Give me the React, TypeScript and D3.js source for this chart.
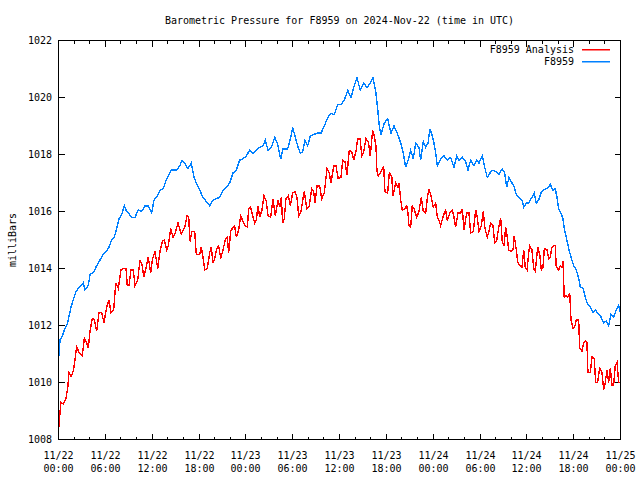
import React, { useEffect } from 'react';
import * as d3 from 'd3';

const chartTitle = 'Barometric Pressure for F8959 on 2024-Nov-22 (time in UTC)';
const yAxisLabel = 'milliBars';
const seriesNames = ['F8959 Analysis', 'F8959'];
const seriesColors = ['#ff0000', '#0080ff'];
const startIso = '2024-11-22T00:00:00Z';
const endIso = '2024-11-25T00:00:00Z';
const yDomain = [1008, 1022];
const yTickValues = [1008, 1010, 1012, 1014, 1016, 1018, 1020, 1022];

// [hours since 11/22 00:00 UTC, millibars]
const analysisReadings: [number, number][] = [
  [0.06,1008.45],[0.19,1008.95],[0.32,1009.3],[0.61,1009.25],[0.92,1009.4],[1.18,1009.8],[1.35,1010.35],[1.6,1010.2],[1.9,1010.4],[2.11,1010.8],
  [2.33,1011.25],[2.63,1011.05],[3.05,1010.95],[3.31,1011.55],[3.61,1011.4],[3.82,1011.2],[4.04,1011.8],[4.33,1012.25],[4.59,1012.2],[4.89,1011.8],
  [5.19,1012.45],[5.53,1012.45],[5.83,1012.1],[6.17,1012.65],[6.47,1012.9],[6.73,1012.45],[7.07,1012.55],[7.33,1013.5],[7.66,1013.3],[8.01,1013.95],
  [8.3,1014.0],[8.65,1014.0],[8.81,1013.4],[9.03,1013.4],[9.29,1013.95],[9.58,1013.95],[9.8,1013.4],[10.15,1013.6],[10.44,1014.3],[10.74,1014.1],
  [10.91,1013.7],[11.17,1013.95],[11.5,1014.4],[11.81,1013.85],[12.02,1014.3],[12.36,1014.6],[12.71,1014.0],[13.0,1014.6],[13.3,1014.95],[13.55,1015.0],
  [13.86,1014.65],[14.07,1014.8],[14.37,1015.4],[14.67,1015.1],[14.96,1015.25],[15.31,1015.6],[15.73,1015.2],[16.17,1015.45],[16.46,1015.85],[16.68,1015.8],
  [16.85,1014.95],[17.1,1015.3],[17.45,1015.3],[17.65,1014.5],[18.09,1014.5],[18.29,1014.75],[18.51,1014.4],[18.73,1013.95],[19.06,1014.0],[19.37,1014.55],
  [19.57,1014.75],[19.79,1014.2],[20.01,1014.35],[20.22,1014.65],[20.52,1014.8],[20.78,1014.35],[21.07,1014.65],[21.37,1015.0],[21.62,1015.1],[21.8,1014.55],
  [22.06,1015.3],[22.35,1015.45],[22.57,1015.5],[22.78,1015.1],[23.09,1015.35],[23.34,1015.85],[23.64,1015.65],[23.93,1015.5],[24.19,1015.45],[24.37,1016.1],
  [24.62,1016.15],[24.92,1015.8],[25.13,1015.6],[25.34,1015.7],[25.56,1016.2],[25.77,1015.8],[26.07,1016.05],[26.33,1016.55],[26.62,1016.35],[26.84,1015.85],
  [27.18,1015.8],[27.48,1016.45],[27.77,1015.85],[28.12,1016.4],[28.38,1016.15],[28.54,1016.5],[28.72,1015.6],[28.93,1015.75],[29.14,1016.45],[29.44,1016.55],
  [29.7,1016.2],[30.0,1016.65],[30.3,1016.7],[30.55,1016.5],[30.77,1015.85],[31.07,1016.0],[31.32,1016.45],[31.49,1016.7],[31.8,1016.1],[32.13,1016.2],
  [32.44,1016.8],[32.69,1016.7],[32.86,1016.3],[33.12,1016.9],[33.46,1016.9],[33.72,1016.45],[34.05,1016.65],[34.4,1017.5],[34.69,1017.35],[34.91,1017.0],
  [35.26,1017.6],[35.55,1017.6],[35.84,1017.15],[36.19,1017.2],[36.41,1017.8],[36.7,1017.75],[36.96,1017.3],[37.25,1018.15],[37.56,1018.1],[37.82,1017.8],
  [38.11,1018.1],[38.33,1018.55],[38.66,1018.55],[38.84,1017.95],[39.1,1018.1],[39.39,1018.55],[39.69,1018.45],[39.94,1017.95],[40.25,1018.85],[40.45,1018.65],
  [40.67,1018.3],[40.8,1017.4],[40.97,1017.25],[41.31,1017.4],[41.66,1017.6],[41.82,1016.7],[42.17,1016.65],[42.38,1017.35],[42.69,1017.25],[42.85,1016.55],
  [43.2,1017.0],[43.49,1016.85],[43.62,1017.0],[43.84,1016.4],[44.04,1016.05],[44.35,1016.1],[44.61,1016.2],[44.77,1015.95],[44.9,1015.5],[45.12,1015.45],
  [45.32,1016.2],[45.54,1016.1],[45.89,1015.8],[46.18,1016.0],[46.48,1016.5],[46.73,1016.0],[47.04,1015.95],[47.24,1016.45],[47.46,1016.8],[47.76,1016.5],
  [48.01,1016.15],[48.32,1016.3],[48.53,1015.8],[48.74,1015.7],[48.96,1015.5],[49.3,1015.85],[49.6,1016.05],[49.81,1015.7],[50.15,1015.95],[50.45,1016.05],
  [50.67,1015.8],[50.88,1015.45],[51.18,1015.95],[51.52,1015.95],[51.73,1016.1],[51.95,1015.35],[52.29,1015.95],[52.59,1015.95],[52.8,1015.25],[53.14,1015.3],
  [53.45,1016.05],[53.65,1015.8],[53.87,1015.3],[54.17,1015.5],[54.42,1016.0],[54.64,1015.4],[54.93,1015.1],[55.15,1015.3],[55.37,1015.6],[55.66,1015.5],
  [55.88,1014.9],[56.13,1014.95],[56.43,1015.5],[56.65,1015.75],[56.85,1014.95],[57.07,1014.8],[57.29,1015.45],[57.49,1015.1],[57.67,1014.65],[57.97,1014.6],
  [58.23,1014.65],[58.39,1015.15],[58.65,1014.65],[58.82,1014.25],[59.08,1014.1],[59.38,1014.05],[59.6,1014.65],[59.8,1014.05],[60.02,1013.95],[60.24,1014.55],
  [60.36,1014.8],[60.66,1014.65],[60.88,1014.0],[61.08,1013.9],[61.39,1014.75],[61.65,1014.5],[61.85,1013.95],[62.07,1014.05],[62.24,1014.7],[62.58,1014.65],
  [62.8,1014.35],[63.0,1014.4],[63.22,1014.75],[63.44,1014.8],[63.64,1014.8],[63.77,1014.05],[64.08,1013.95],[64.28,1014.1],[64.5,1014.05],[64.63,1014.25],
  [64.79,1013.0],[65.05,1013.05],[65.23,1013.0],[65.49,1013.15],[65.66,1012.2],[65.92,1011.9],[66.13,1011.95],[66.34,1012.2],[66.64,1012.2],[66.77,1011.2],
  [67.06,1011.1],[67.28,1011.4],[67.49,1011.45],[67.7,1011.4],[67.83,1010.35],[68.13,1010.35],[68.35,1010.9],[68.64,1010.85],[68.82,1010.0],[69.07,1010.0],
  [69.33,1010.5],[69.63,1010.35],[69.84,1009.75],[70.05,1010.0],[70.27,1010.45],[70.48,1010.0],[70.69,1010.5],[70.91,1009.9],[71.12,1009.9],[71.33,1010.6],
  [71.55,1010.7],[71.77,1010.0],[71.94,1010.0]
];

const sensorReadings: [number, number][] = [
  [0.0,1010.8],[0.2,1011.5],[0.45,1011.6],[0.83,1011.9],[1.18,1012.1],[1.6,1012.65],[2.02,1013.0],[2.24,1013.2],[2.54,1013.3],[3.18,1013.5],
  [3.39,1013.25],[3.82,1013.4],[4.04,1013.8],[4.46,1013.85],[4.89,1014.1],[5.32,1014.3],[5.74,1014.5],[6.17,1014.6],[6.47,1014.75],[6.82,1015.0],
  [7.15,1015.1],[7.46,1015.4],[7.75,1015.75],[8.1,1015.9],[8.43,1016.2],[8.65,1016.05],[8.94,1015.95],[9.38,1015.8],[9.8,1015.8],[10.22,1016.05],
  [10.66,1016.0],[11.08,1016.2],[11.5,1016.2],[11.94,1015.95],[12.23,1016.4],[12.58,1016.5],[13.0,1016.75],[13.43,1016.8],[13.77,1017.1],[14.07,1017.25],
  [14.45,1017.45],[15.09,1017.45],[15.53,1017.6],[15.82,1017.8],[16.17,1017.7],[16.59,1017.5],[17.01,1017.7],[17.36,1017.2],[17.65,1017.0],[18.09,1016.75],
  [18.51,1016.5],[18.93,1016.35],[19.37,1016.2],[19.79,1016.4],[20.22,1016.45],[20.65,1016.5],[21.07,1016.75],[21.5,1016.85],[21.93,1017.0],[22.35,1017.35],
  [22.78,1017.45],[23.21,1017.8],[23.64,1017.85],[24.06,1017.95],[24.49,1018.15],[24.92,1018.05],[25.34,1018.15],[25.77,1018.25],[26.2,1018.3],[26.49,1018.5],
  [26.84,1018.15],[27.26,1018.25],[27.7,1018.6],[28.03,1018.4],[28.47,1017.85],[28.76,1018.2],[29.36,1018.2],[29.79,1018.65],[30.0,1018.95],[30.3,1018.65],
  [30.64,1018.3],[30.98,1018.05],[31.28,1018.1],[31.58,1018.5],[31.92,1018.3],[32.26,1018.65],[32.69,1018.7],[33.12,1018.75],[33.63,1018.75],[34.05,1019.0],
  [34.49,1019.3],[34.91,1019.45],[35.33,1019.4],[35.77,1019.75],[36.19,1019.75],[36.61,1019.9],[37.05,1020.25],[37.47,1020.0],[37.82,1020.35],[38.24,1020.7],
  [38.66,1020.25],[39.1,1020.5],[39.52,1020.35],[39.94,1020.5],[40.29,1020.7],[40.67,1020.15],[40.89,1019.6],[41.1,1019.0],[41.31,1018.7],[41.74,1019.1],
  [42.17,1019.25],[42.6,1018.75],[42.98,1019.0],[43.4,1018.75],[43.84,1018.4],[44.17,1018.05],[44.48,1017.55],[44.9,1017.9],[45.12,1018.15],[45.45,1017.85],
  [45.76,1018.4],[46.18,1018.25],[46.4,1017.8],[46.73,1018.45],[47.04,1018.25],[47.34,1018.4],[47.59,1018.9],[47.89,1018.65],[48.1,1018.4],[48.32,1018.05],
  [48.53,1017.6],[48.96,1017.85],[49.39,1017.95],[49.81,1017.8],[50.24,1017.9],[50.67,1017.55],[51.01,1017.95],[51.31,1017.8],[51.73,1017.9],[52.16,1017.75],
  [52.46,1017.45],[52.8,1017.8],[53.23,1017.6],[53.57,1017.8],[53.87,1017.7],[54.29,1017.95],[54.6,1017.55],[54.93,1017.2],[55.28,1017.35],[55.57,1017.45],
  [56.01,1017.4],[56.43,1017.3],[56.85,1017.5],[57.16,1017.35],[57.42,1016.85],[57.71,1017.2],[58.1,1017.0],[58.39,1016.85],[58.65,1016.6],[58.95,1016.5],
  [59.38,1016.4],[59.6,1016.15],[59.93,1016.3],[60.24,1016.3],[60.66,1016.5],[60.95,1016.65],[61.21,1016.3],[61.52,1016.4],[61.81,1016.65],[62.16,1016.75],
  [62.49,1016.8],[62.8,1016.85],[63.0,1016.95],[63.35,1016.75],[63.64,1016.8],[63.86,1016.5],[64.08,1016.1],[64.37,1015.95],[64.63,1015.75],[64.8,1015.4],
  [65.05,1015.1],[65.36,1014.7],[65.66,1014.4],[66.0,1014.1],[66.33,1013.95],[66.64,1013.65],[66.85,1013.35],[67.19,1013.3],[67.49,1013.0],[67.7,1012.8],
  [68.13,1012.65],[68.47,1012.45],[68.77,1012.55],[69.2,1012.4],[69.5,1012.3],[69.84,1012.1],[70.18,1012.15],[70.48,1012.0],[70.78,1012.4],[71.12,1012.3],
  [71.46,1012.55],[71.77,1012.7],[72.0,1012.45]
];

const W = 640;
const H = 480;
const left = 58.5;
const right = 620.5;
const top = 40.5;
const bottom = 439.5;
const font = '"DejaVu Sans Mono", "Liberation Mono", monospace';

export default function App() {
  useEffect(() => {
    document.body.style.margin = '0';
  }, []);

  const start = new Date(startIso);
  const end = new Date(endIso);
  const x = d3.scaleUtc().domain([start, end]).range([left, right]);
  const y = d3.scaleLinear().domain(yDomain).range([bottom, top]);

  const toDate = (h: number) => new Date(start.getTime() + h * 3600 * 1000);
  const line = d3
    .line<[number, number]>()
    .x((d) => x(toDate(d[0])))
    .y((d) => y(d[1]));

  const majorTicks = x.ticks(d3.utcHour.every(6) as any);
  const minorTicks = x.ticks(d3.utcHour.every(2) as any).filter((t) => t.getUTCHours() % 6 !== 0);
  const fmtDay = d3.utcFormat('%m/%d');
  const fmtTime = d3.utcFormat('%H:%M');

  const series = [analysisReadings, sensorReadings];

  return (
    <svg
      width={W}
      height={H}
      style={{ display: 'block', background: '#fff' }}
      fontFamily={font}
      fontSize={10}
    >
      <rect x={0} y={0} width={W} height={H} fill="#fff" />
      <text x={(left + right) / 2} y={24} textAnchor="middle" fill="#000">
        {chartTitle}
      </text>
      <text
        transform={`translate(12,${(top + bottom) / 2}) rotate(-90)`}
        textAnchor="middle"
        dominantBaseline="central"
        fill="#000"
      >
        {yAxisLabel}
      </text>

      {/* y ticks */}
      {yTickValues.map((v) => {
        const yy = Math.round(y(v) - 0.5) + 0.5;
        return (
          <g key={'y' + v}>
            <line x1={left} x2={left + 6} y1={yy} y2={yy} stroke="#000" shapeRendering="crispEdges" />
            <line x1={right} x2={right - 6} y1={yy} y2={yy} stroke="#000" shapeRendering="crispEdges" />
            <text x={52} y={yy + 3.5} textAnchor="end" fill="#000">
              {v}
            </text>
          </g>
        );
      })}

      {/* x ticks */}
      {minorTicks.map((t, i) => {
        const xx = Math.round(x(t) - 0.5) + 0.5;
        return (
          <g key={'m' + i}>
            <line x1={xx} x2={xx} y1={bottom} y2={bottom - 3} stroke="#000" shapeRendering="crispEdges" />
            <line x1={xx} x2={xx} y1={top} y2={top + 3} stroke="#000" shapeRendering="crispEdges" />
          </g>
        );
      })}
      {majorTicks.map((t, i) => {
        const xx = Math.round(x(t) - 0.5) + 0.5;
        return (
          <g key={'M' + i}>
            <line x1={xx} x2={xx} y1={bottom} y2={bottom - 6} stroke="#000" shapeRendering="crispEdges" />
            <line x1={xx} x2={xx} y1={top} y2={top + 6} stroke="#000" shapeRendering="crispEdges" />
            <text x={xx} y={459} textAnchor="middle" fill="#000">
              {fmtDay(t)}
            </text>
            <text x={xx} y={472} textAnchor="middle" fill="#000">
              {fmtTime(t)}
            </text>
          </g>
        );
      })}

      {/* data */}
      {series.map((s, i) => (
        <path
          key={'s' + i}
          d={line(s) || ''}
          fill="none"
          stroke={seriesColors[i]}
          strokeWidth={1.4}
          strokeLinejoin="miter"
          shapeRendering="crispEdges"
        />
      ))}

      {/* legend */}
      {seriesNames.map((name, i) => {
        const ly = 49 + i * 12;
        return (
          <g key={'l' + i}>
            <text x={574} y={ly + 4} textAnchor="end" fill="#000">
              {name}
            </text>
            <rect x={582} y={ly} width={28} height={1.5} fill={seriesColors[i]} />
          </g>
        );
      })}

      {/* frame */}
      <rect
        x={left}
        y={top}
        width={right - left}
        height={bottom - top}
        fill="none"
        stroke="#000"
        shapeRendering="crispEdges"
      />
    </svg>
  );
}
